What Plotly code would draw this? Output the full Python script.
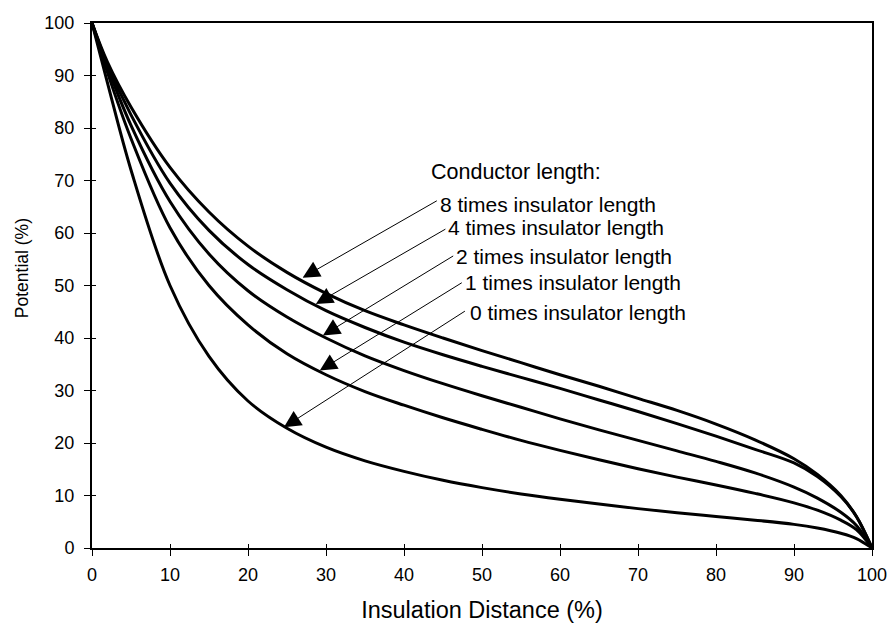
import plotly.graph_objects as go

# ---- data ----
x_pts = [0, 2, 5, 10, 15, 20, 25, 30, 35, 40, 45, 50, 55, 60, 65, 70, 75, 80, 85, 90, 93, 96, 98, 100]

pot_0x = [100, 88.5, 72, 50, 36.5, 28, 22.8, 19.2, 16.6, 14.6, 12.9, 11.5, 10.3, 9.3, 8.4, 7.5,
          6.7, 6.0, 5.3, 4.5, 3.8, 2.8, 1.8, 0]
pot_1x = [100, 90.5, 78, 61, 50, 42.5, 37, 33, 29.8, 27.2, 24.8, 22.6, 20.5, 18.6, 16.8, 15.1,
          13.5, 12.0, 10.4, 8.6, 7.2, 5.3, 3.5, 0]
pot_2x = [100, 91.5, 80.5, 66, 56, 49, 44, 40, 36.6, 33.8, 31.3, 29, 26.8, 24.6, 22.5, 20.5,
          18.5, 16.5, 14.3, 11.6, 9.5, 6.8, 4.3, 0]
pot_4x = [100, 92, 82.5, 69.5, 60.5, 54, 49.2, 45.2, 42, 39.2, 36.8, 34.6, 32.5, 30.4, 28.2, 26,
          23.7, 21.3, 18.8, 16.2, 13.6, 9.8, 6.0, 0]
pot_8x = [100, 92.5, 84, 72.5, 64, 57.5, 52.5, 48.5, 45.2, 42.5, 40, 37.6, 35.3, 33, 30.8, 28.5,
          26.2, 23.6, 20.6, 17, 14, 10, 6.0, 0]

series = [pot_0x, pot_1x, pot_2x, pot_4x, pot_8x]

labels = ["8 times insulator length", "4 times insulator length",
          "2 times insulator length", "1 times insulator length",
          "0 times insulator length"]
# arrow tip points (on curves) and tails, text anchors (data units)
tip_x = [27, 28.7, 29.6, 29.2, 24.6]
tip_y = [51.5, 46.5, 40.5, 33.8, 23.0]
tail_x = [44.4, 45.5, 46.5, 47.6, 48.0]
tail_y = [66.3, 60.9, 55.8, 50.7, 45.3]
text_x = [44.3, 45.4, 46.4, 47.6, 48.2]
text_y = [65.5, 61.0, 55.6, 50.5, 44.9]
header = "Conductor length:"
header_xy = (43.2, 71.6)

x_title = "Insulation Distance (%)"
y_title = "Potential (%)"

x_ticks = [0, 10, 20, 30, 40, 50, 60, 70, 80, 90, 100]
y_ticks = [0, 10, 20, 30, 40, 50, 60, 70, 80, 90, 100]

FONT = "Arial, Liberation Sans, Helvetica, sans-serif"

fig = go.Figure()
for s in series:
    fig.add_trace(go.Scatter(x=x_pts, y=s, mode="lines",
                             line=dict(color="black", width=3, shape="spline", smoothing=1.0),
                             showlegend=False, hoverinfo="skip"))

# invisible trace for inner tick axes
fig.add_trace(go.Scatter(x=[0], y=[0], xaxis="x2", yaxis="y2", mode="markers",
                         marker=dict(opacity=0), showlegend=False, hoverinfo="skip"))

for i in range(5):
    fig.add_annotation(x=tip_x[i], y=tip_y[i], ax=tail_x[i], ay=tail_y[i],
                       xref="x", yref="y", axref="x", ayref="y",
                       text="", showarrow=True, arrowhead=2, arrowsize=3.4,
                       arrowwidth=1, arrowcolor="black", standoff=0, startstandoff=0)
    fig.add_annotation(x=text_x[i], y=text_y[i], xref="x", yref="y",
                       text=labels[i], showarrow=False, xanchor="left", yanchor="middle",
                       font=dict(family=FONT, size=21, color="black"))

fig.add_annotation(x=header_xy[0], y=header_xy[1], xref="x", yref="y",
                   text=header, showarrow=False, xanchor="left", yanchor="middle",
                   font=dict(family=FONT, size=21.5, color="black"))

# y-axis title (placed slightly above centre as in the reference)
fig.add_annotation(x=-0.0897, y=0.533, xref="paper", yref="paper",
                   text=y_title, textangle=-90, showarrow=False,
                   xanchor="center", yanchor="middle",
                   font=dict(family=FONT, size=17.5, color="black"))

axis_common = dict(showgrid=False, zeroline=False, showline=True, linecolor="black",
                   linewidth=2, mirror=True, ticks="outside", ticklen=6, tickwidth=1,
                   tickcolor="black", automargin=False,
                   tickfont=dict(family=FONT, size=18, color="black"))

fig.update_layout(
    width=892, height=623,
    margin=dict(l=92, r=20, t=23, b=75),
    plot_bgcolor="white", paper_bgcolor="white",
    xaxis=dict(range=[0, 100], tickvals=x_ticks, ticktext=[str(v) for v in x_ticks],
               ticklabelstandoff=3,
               title=dict(text=x_title, standoff=22,
                          font=dict(family=FONT, size=23.5, color="black")),
               **axis_common),
    yaxis=dict(range=[0, 100], tickvals=y_ticks, ticktext=[str(v) for v in y_ticks],
               ticklabelstandoff=6,
               **axis_common),
    xaxis2=dict(range=[0, 100], overlaying="x", anchor="y", side="bottom",
                tickvals=x_ticks, ticks="inside", ticklen=4, tickwidth=1, tickcolor="black",
                showticklabels=False, showline=False, showgrid=False, zeroline=False),
    yaxis2=dict(range=[0, 100], overlaying="y", anchor="x", side="left",
                tickvals=y_ticks, ticks="inside", ticklen=4, tickwidth=1, tickcolor="black",
                showticklabels=False, showline=False, showgrid=False, zeroline=False),
)

fig.write_html("out.html")
